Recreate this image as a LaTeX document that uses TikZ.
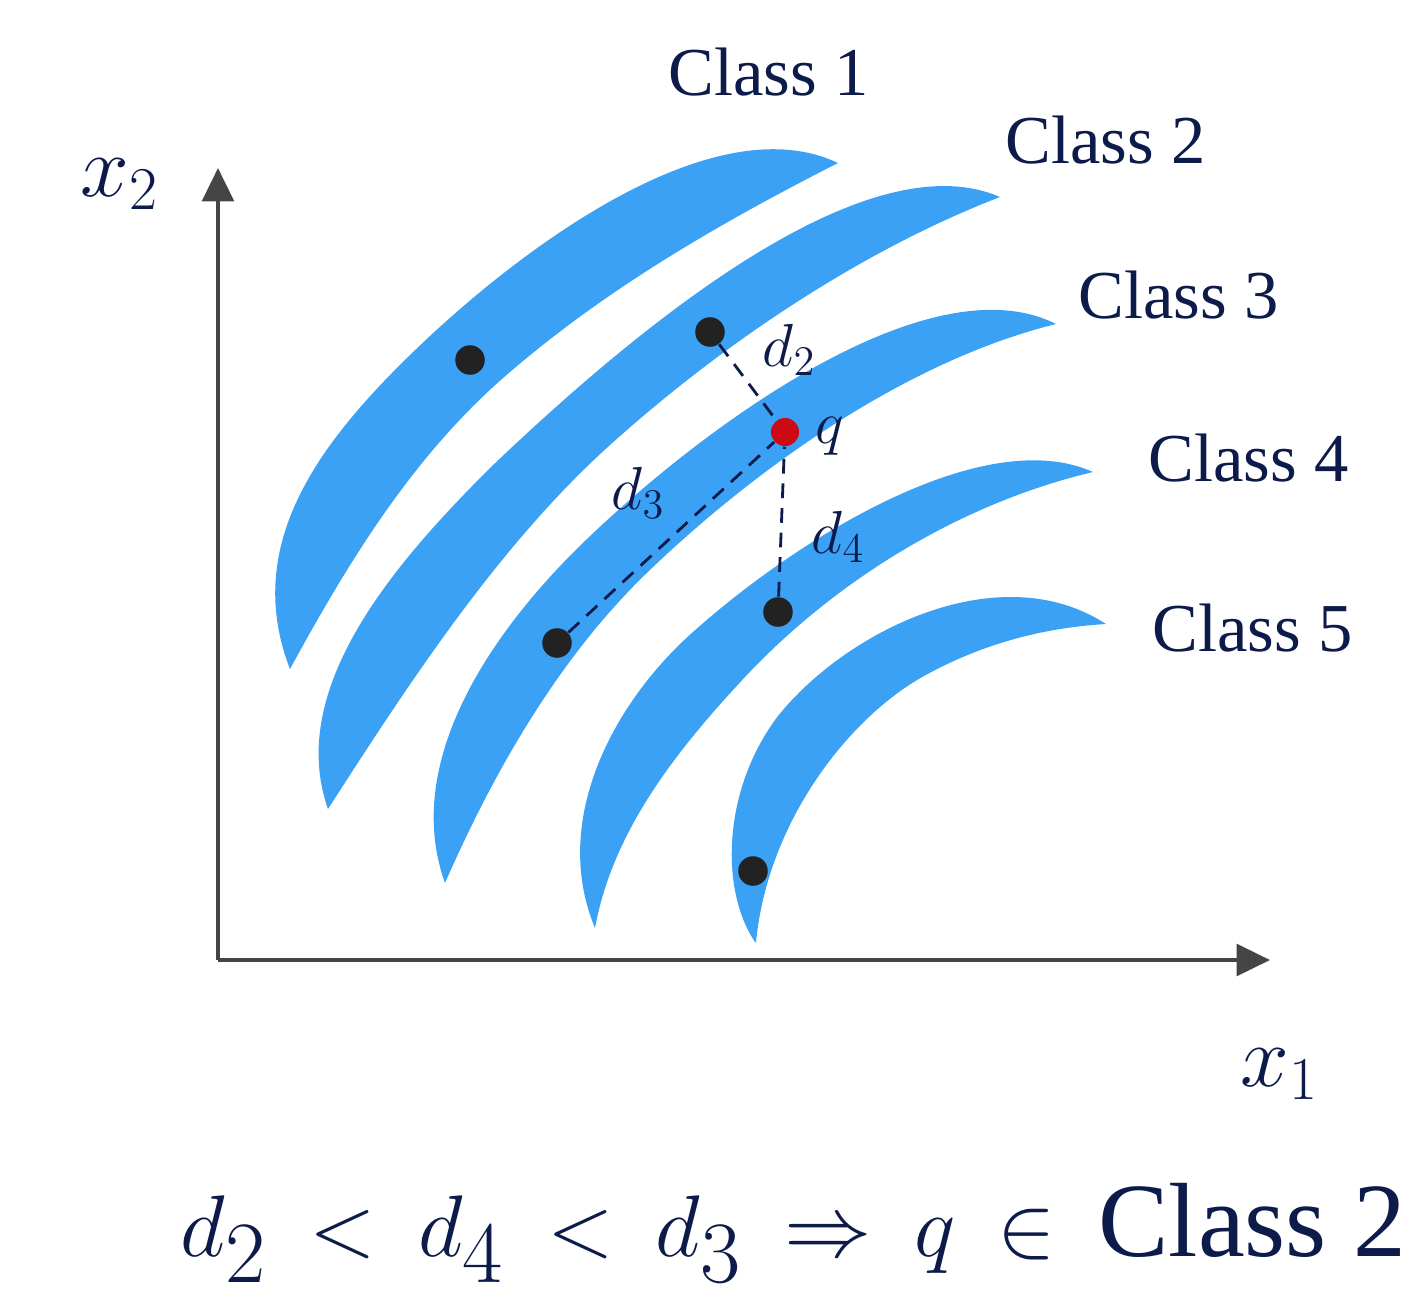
\documentclass[tikz,border=0pt]{standalone}
\usepackage{fontspec}
\setmainfont{Liberation Serif}
\usepackage{amsmath}
\usetikzlibrary{arrows.meta,positioning}
\definecolor{bandblue}{HTML}{3BA1F5}
\definecolor{inknavy}{HTML}{0D1B4B}
\definecolor{axisgray}{HTML}{454545}
\definecolor{dotblack}{HTML}{222222}
\definecolor{queryred}{HTML}{CC0A14}

\begin{document}
\begin{tikzpicture}[x=0.01cm, y=-0.01cm,
  band/.style={fill=bandblue, draw=none},
  sample/.style={circle, fill=dotblack, minimum size=8.4pt, inner sep=0pt},
  query/.style={circle, fill=queryred, minimum size=8pt, inner sep=0pt},
  axis/.style={draw=axisgray, line width=1.15pt, -{Triangle[length=9.5pt, width=9pt]}},
  dist/.style={draw=inknavy, line width=0.8pt, dash pattern=on 4.2pt off 2.8pt},
  classlabel/.style={font=\fontsize{19.5}{23}\selectfont, text=inknavy, inner sep=0pt, anchor=base west},
  mathlabel/.style={font=\fontsize{18}{21}\selectfont, text=inknavy, inner sep=0pt, anchor=base west},
  axislabel/.style={mathlabel, font=\fontsize{24}{28}\selectfont},
]
  \useasboundingbox (0,0) rectangle (1420,1299);

  % Class regions: outer edge up to the right tip, inner edge back ----------
  \fill[band] (290,669) .. controls (243,548) and (315,448) .. (408,357)
    .. controls (515,252) and (712,103) .. (838,163)
    .. controls (722,222) and (609,287) .. (510,372)
    .. controls (415,453) and (350,559) .. (290,669) -- cycle;
  \fill[band] (328,809) .. controls (285,687) and (398,560) .. (490,468)
    .. controls (627,337) and (862,137) .. (1000,197)
    .. controls (860,251) and (721,345) .. (610,445)
    .. controls (499,545) and (409,683) .. (328,809) -- cycle;
  \fill[band] (445,883) .. controls (401,761) and (493,629) .. (587,539)
    .. controls (709,422) and (931,261) .. (1056,324)
    .. controls (910,360) and (761,464) .. (652,568)
    .. controls (561,654) and (495,769) .. (445,883) -- cycle;
  \fill[band] (595,928) .. controls (550,820) and (614,702) .. (693,632)
    .. controls (798,538) and (984,423) .. (1093,472)
    .. controls (962,503) and (837,579) .. (745,677)
    .. controls (677,750) and (613,830) .. (595,928) -- cycle;
  \fill[band] (755,942) .. controls (720,890) and (722,790) .. (778,716)
    .. controls (847,630) and (1000,555) .. (1106,624)
    .. controls (1040,628) and (980,645) .. (924,676)
    .. controls (850,717) and (768,820) .. (756,942) -- cycle;

  % Axes ---------------------------------------------------------------------
  \coordinate (origin) at (218,960);
  \coordinate (ytip) at (218,168);
  \coordinate (xtip) at (1270,960);
  \draw[axis] (origin) -- (ytip);
  \draw[axis] (origin) -- (xtip);
  \node[axislabel] (xtwo) at (80,196) {$x_2$};
  \node[axislabel] (xone) at (1240,1086) {$x_1$};

  % Samples and query ----------------------------------------------------------
  \node[sample] (p1) at (470,360) {};
  \node[sample] (p2) at (710,332) {};
  \node[sample] (p3) at (557,643) {};
  \node[sample] (p4) at (778,612) {};
  \node[sample] (p5) at (753,871) {};
  \node[query] (q) at (785,432) {};

  \draw[dist] (p2) -- (q);
  \draw[dist] (p3) -- (q);
  \draw[dist] (p4) -- (q);

  \node[mathlabel] (dtwo) at (762,366) {$d_2$};
  \node[mathlabel] (qlab) at (815,443) {$q$};
  \node[mathlabel] (dthree) at (611,509) {$d_3$};
  \node[mathlabel] (dfour) at (811,553) {$d_4$};

  % Class names --------------------------------------------------------------
  \node[classlabel] (c1) at (668,95) {Class 1};
  \node[classlabel] (c2) at (1005,163) {Class 2};
  \node[classlabel] (c3) at (1078,318) {Class 3};
  \node[classlabel] (c4) at (1148,481) {Class 4};
  \node[classlabel] (c5) at (1152,651) {Class 5};

  % Decision rule ------------------------------------------------------------
  \node[font=\fontsize{35}{40}\selectfont, text=inknavy, inner sep=0pt, anchor=base west]
    (rule) at (180,1256) {\thickmuskip=8.7mu
      $d_2 < d_4 < d_3 \Rightarrow q \in \text{\fontsize{30}{36}\selectfont Class 2}$};
\end{tikzpicture}
\end{document}
